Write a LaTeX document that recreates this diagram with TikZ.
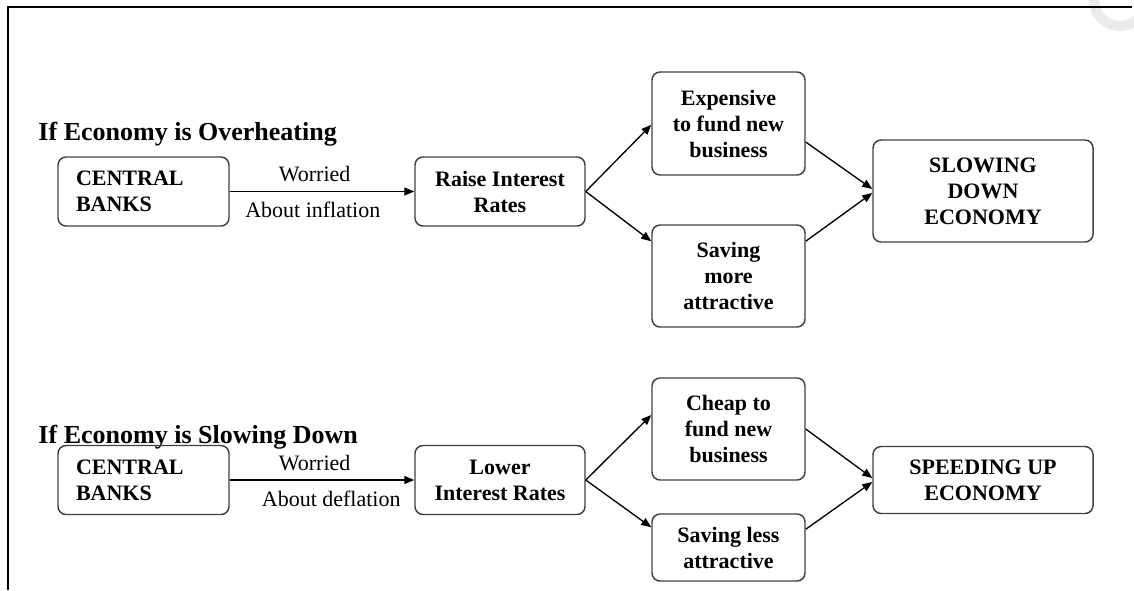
\documentclass[tikz,border=0pt]{standalone}
\usepackage{fontspec}
\setmainfont{Liberation Serif}
\usetikzlibrary{arrows.meta,calc}
\tikzset{every picture/.style={line width=0.75pt}}
\tikzset{
  box/.style={draw={rgb,255:red,64;green,64;blue,64}, line width=1.1pt, rounded corners=6pt, align=center, inner sep=2pt, font=\bfseries\fontsize{16.5}{19.5}\selectfont},
  bankbox/.style={box, align=left, text width=101.25pt, inner xsep=13.5pt, minimum height=51.75pt},
  link/.style={draw=black, line width=1pt, -{Triangle[length=7.5pt,width=6pt]}},
  lbl/.style={font=\fontsize{16.5}{19.5}\selectfont, inner sep=0.75pt},
  headline/.style={anchor=base west, inner sep=0pt, font=\bfseries\fontsize{19.5}{23}\selectfont}
}
\begin{document}
\begin{tikzpicture}[x=0.75pt,y=0.75pt,yscale=-1,xscale=1]
\useasboundingbox (0,0) rectangle (1134,590);

%Shape: faint ring [top right corner]
\begin{scope}
\clip (0,0) rectangle (1134,590);
\draw [color={rgb, 255:red, 234; green, 234; blue, 234 }, line width=7.5pt] (1120,0) circle [radius=19.5pt];
\end{scope}
%Shape: frame
\draw [line width=2pt] (8,590) -- (8,7) -- (1132,7);

% Text Node
\draw (38,140) node (headOver) [headline] {If Economy is Overheating};
% Text Node
\draw (38,443) node (headSlow) [headline] {If Economy is Slowing Down};

%Shape: boxes, overheating
\draw (143.5,191.5) node (cbA) [bankbox] {CENTRAL\\BANKS};
\draw (500,191.5) node (raise) [box, minimum width=127.5pt, minimum height=51.75pt] {Raise Interest\\Rates};
\draw (728.5,123.5) node (costly) [box, minimum width=114.75pt, minimum height=77.25pt] {Expensive\\to fund new\\business};
\draw (728.5,276) node (saveMore) [box, minimum width=114.75pt, minimum height=76.5pt] {Saving\\more\\attractive};
\draw (983,191) node (slowDown) [box, minimum width=165pt, minimum height=76.5pt] {SLOWING\\DOWN\\ECONOMY};

%Shape: boxes, slowing down
\draw (143.5,480) node (cbB) [bankbox] {CENTRAL\\BANKS};
\draw (500,480) node (lower) [box, minimum width=127.5pt, minimum height=51.75pt] {Lower\\Interest Rates};
\draw (728.5,429) node (cheap) [box, minimum width=114.75pt, minimum height=76.5pt] {Cheap to\\fund new\\business};
\draw (728.5,547.5) node (saveLess) [box, minimum width=114.75pt, minimum height=50.25pt] {Saving less\\attractive};
\draw (983,480) node (speedUp) [box, minimum width=165pt, minimum height=50.25pt] {SPEEDING UP\\ECONOMY};

%Straight Lines: overheating
\draw [link] (cbA.east) -- (raise.west) node [lbl, pos=0.46, above=6pt] {Worried} node [lbl, pos=0.45, below=6.75pt] {About inflation};
\draw [link] (raise.east) -- ([yshift=1pt]costly.west);
\draw [link] (raise.east) -- ([yshift=12.75pt]saveMore.north west);
\draw [link] ([yshift=13.9pt]costly.east) -- ([yshift=-1.5pt]slowDown.west);
\draw [link] ([yshift=12.75pt]saveMore.north east) -- ([yshift=1.5pt]slowDown.west);

%Straight Lines: slowing down
\draw [link] (cbB.east) -- (lower.west) node [lbl, pos=0.46, above=6pt] {Worried} node [lbl, pos=0.55, below=6.75pt] {About deflation};
\draw [link] (lower.east) -- ([yshift=-10.5pt]cheap.west);
\draw [link] (lower.east) -- ([yshift=10.5pt]saveLess.north west);
\draw [link] (cheap.east) -- ([yshift=-1.5pt]speedUp.west);
\draw [link] ([yshift=12pt]saveLess.north east) -- ([yshift=1.5pt]speedUp.west);

\end{tikzpicture}
\end{document}
